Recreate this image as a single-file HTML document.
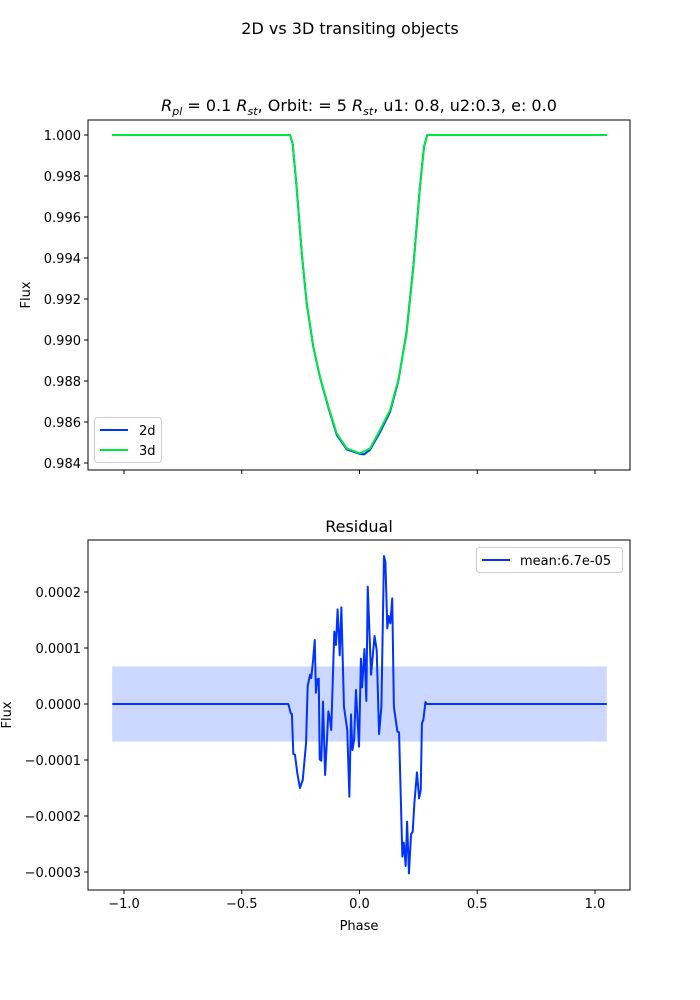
<!DOCTYPE html>
<html><head><meta charset="utf-8">
<style>
body{margin:0;background:#fff;}
svg{display:block;font-family:"DejaVu Sans","Liberation Sans",sans-serif;}
</style></head>
<body>
<svg id="fig" width="700" height="1000" viewBox="0 0 700 1000" xmlns="http://www.w3.org/2000/svg">
<rect width="700" height="1000" fill="#fff"/>
<text x="350" y="34" text-anchor="middle" font-size="16">2D vs 3D transiting objects</text>
<text x="359" y="111" text-anchor="middle" font-size="16"><tspan font-style="italic">R</tspan><tspan font-style="italic" font-size="11" dy="4">pl</tspan><tspan dy="-4"> = 0.1 </tspan><tspan font-style="italic">R</tspan><tspan font-style="italic" font-size="11" dy="4">st</tspan><tspan dy="-4">, Orbit: = 5 </tspan><tspan font-style="italic">R</tspan><tspan font-style="italic" font-size="11" dy="4">st</tspan><tspan dy="-4">, u1: 0.8, u2:0.3, e: 0.0</tspan></text>
<text x="359" y="532" text-anchor="middle" font-size="16">Residual</text>
<g id="top"></g>
<g id="bot"></g>
</svg>
<script>
// Shared phase-axis ticks
const xTicks = [-1.0, -0.5, 0.0, 0.5, 1.0];
const xTickLabels = ["\u22121.0", "\u22120.5", "0.0", "0.5", "1.0"];

// Top chart: flux
const fluxTicks = [0.984, 0.986, 0.988, 0.990, 0.992, 0.994, 0.996, 0.998, 1.000];
const phase3d = [-1.05,-0.295,-0.284,-0.267,-0.245,-0.224,-0.196,-0.168,-0.132,-0.097,-0.054,0.002,0.045,0.087,0.130,0.165,0.200,0.229,0.257,0.274,0.288,1.05];
const flux3d  = [1.0,1.0,0.99959,0.99748,0.99423,0.99179,0.98967,0.98821,0.98675,0.98545,0.98471,0.98447,0.98471,0.98561,0.98659,0.98805,0.99033,0.99358,0.99748,0.99943,1.0,1.0];
const phase2d = [-1.05,-0.295,-0.284,-0.267,-0.245,-0.224,-0.196,-0.168,-0.132,-0.097,-0.054,0.002,0.020,0.045,0.087,0.130,0.165,0.200,0.229,0.257,0.274,0.288,1.05];
const flux2d  = [1.0,1.0,0.99959,0.99745,0.99420,0.99176,0.98965,0.98819,0.98670,0.98538,0.98466,0.98444,0.98442,0.98465,0.98550,0.98650,0.98800,0.99040,0.99365,0.99752,0.99944,1.0,1.0];

// Bottom chart: residual (in units of 1e-4)
const resTicks = [-3, -2, -1, 0, 1, 2];
const resTickLabels = ["\u22120.0003","\u22120.0002","\u22120.0001","0.0000","0.0001","0.0002"];
const resPhase = [-1.05,-0.302,-0.292,-0.287,-0.281,-0.274,-0.264,-0.253,-0.241,-0.227,-0.220,-0.210,-0.205,-0.197,-0.190,-0.185,-0.179,-0.173,-0.169,-0.162,-0.155,-0.146,-0.132,-0.125,-0.120,-0.107,-0.100,-0.093,-0.084,-0.077,-0.066,-0.052,-0.043,-0.036,-0.030,-0.023,-0.015,-0.002,0.006,0.011,0.021,0.029,0.035,0.049,0.064,0.073,0.083,0.093,0.104,0.110,0.118,0.124,0.131,0.139,0.146,0.161,0.168,0.182,0.188,0.196,0.202,0.210,0.219,0.226,0.233,0.244,0.253,0.260,0.265,0.271,0.280,0.285,1.05];
const resValue = [0,0,-0.167,-0.179,-0.893,-0.905,-1.238,-1.5,-1.357,-0.702,0.321,0.524,0.464,0.786,1.143,0.202,0.440,0.452,-0.988,-1.012,0.042,-1.268,-0.131,-0.286,-0.464,1.292,1.054,1.690,0.869,1.726,-0.048,-0.464,-1.655,-0.185,-0.821,-0.643,0.25,-0.762,0.810,0.298,0.982,0.054,2.095,0.524,1.214,0.964,-0.536,-0.048,2.643,2.536,1.351,1.571,1.440,1.887,-0.048,-0.494,-0.506,-2.726,-2.476,-2.893,-2.101,-3.024,-2.327,-2.280,-1.774,-1.220,-1.685,-1.536,-0.345,-0.286,0.036,0,0];
const meanRes = [0.67];

const NS="http://www.w3.org/2000/svg";
function mk(parent,tag,attrs){const e=document.createElementNS(NS,tag);for(const k in attrs)e.setAttribute(k,attrs[k]);parent.appendChild(e);return e;}
const L=88,R=630;
const xs = v => 359.5 + v*235.5;
const yTop = v => 135 + (1.0 - v)/0.002*41;
const yBot = v => 704 - v*56;

function axes(g, top, bottom, name){
  const f=mk(g,'rect',{x:L,y:top,width:R-L,height:bottom-top,fill:'none',stroke:'#000','stroke-width':1});
  
  
}
function xAxis(g,bottom,labels,name){
  xTicks.forEach((t,i)=>{
    const x=xs(t);
    const tk=mk(g,'line',{x1:x,x2:x,y1:bottom,y2:bottom+4,stroke:'#000'});
    
    
    if(labels){
      const tx=mk(g,'text',{x:x,y:bottom+18,'text-anchor':'middle','font-size':13});
      tx.textContent=xTickLabels[i];
      
      
    }
  });
}
function yAxis(g,ticks,labels,yf,name){
  ticks.forEach((t,i)=>{
    const y=yf(t);
    const tk=mk(g,'line',{x1:L-4,x2:L,y1:y,y2:y,stroke:'#000'});
    
    
    const tx=mk(g,'text',{x:L-7,y:y+5,'text-anchor':'end','font-size':13});
    tx.textContent=labels[i];
    
    
  });
}
function line(g,xsArr,ysArr,yf,color,name){
  const d=xsArr.map((v,i)=>(i?'L':'M')+xs(v).toFixed(2)+','+yf(ysArr[i]).toFixed(2)).join(' ');
  const p=mk(g,'path',{d:d,fill:'none',stroke:color,'stroke-width':2,'stroke-linejoin':'round'});
  
  
}

// TOP
const gt=document.getElementById('top');
yAxis(gt,fluxTicks,fluxTicks.map(v=>v.toFixed(3)),yTop,'top');
xAxis(gt,470,false,'top');
line(gt,phase2d,flux2d,yTop,'#0033ff','line-2d');
line(gt,phase3d,flux3d,yTop,'#00e640','line-3d');
axes(gt,120,470,'top-axes');
let yl=mk(gt,'text',{x:30,y:295,'text-anchor':'middle','font-size':13,transform:'rotate(-90 30 295)'});
yl.textContent='Flux';


const lg=mk(gt,'g',{});


mk(lg,'rect',{x:94.5,y:417.5,width:67,height:45,rx:3,fill:'#fff',stroke:'#ccc'});
mk(lg,'line',{x1:100,x2:128,y1:430,y2:430,stroke:'#0033ff','stroke-width':2});
mk(lg,'line',{x1:100,x2:128,y1:450,y2:450,stroke:'#00e640','stroke-width':2});
let t1=mk(lg,'text',{x:139,y:435,'font-size':13});t1.textContent='2d';


let t2=mk(lg,'text',{x:139,y:455,'font-size':13});t2.textContent='3d';



// BOTTOM
const gb=document.getElementById('bot');
const band=mk(gb,'rect',{x:xs(-1.05),y:yBot(meanRes[0]),width:xs(1.05)-xs(-1.05),height:yBot(-meanRes[0])-yBot(meanRes[0]),fill:'#ccd8ff'});


yAxis(gb,resTicks,resTickLabels,yBot,'bottom');
xAxis(gb,890,true,'bottom');
line(gb,resPhase,resValue,yBot,'#0033ff','residual-line');
axes(gb,540,890,'bottom-axes');
let yl2=mk(gb,'text',{x:11,y:715,'text-anchor':'middle','font-size':13,transform:'rotate(-90 11 715)'});
yl2.textContent='Flux';


let xl=mk(gb,'text',{x:359,y:930,'text-anchor':'middle','font-size':13});
xl.textContent='Phase';


const lg2=mk(gb,'g',{});


mk(lg2,'rect',{x:476.5,y:547.5,width:146,height:25,rx:3,fill:'#fff',stroke:'#ccc'});
mk(lg2,'line',{x1:482,x2:510,y1:560,y2:560,stroke:'#0033ff','stroke-width':2});
let t3=mk(lg2,'text',{x:520,y:565,'font-size':13});t3.textContent='mean:6.7e-05';


</script>
</body></html>
